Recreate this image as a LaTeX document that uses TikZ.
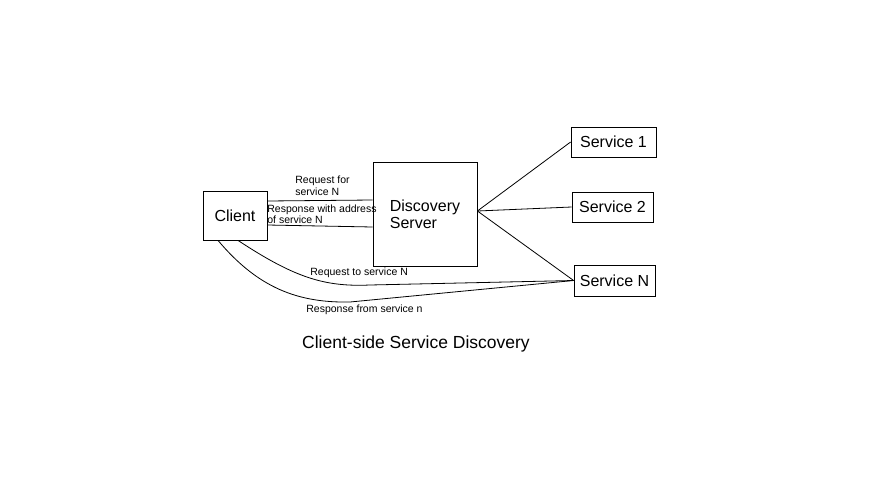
\documentclass[tikz,border=0pt]{standalone}
\usepackage{fontspec}
\setmainfont{Liberation Sans}
\usetikzlibrary{positioning}

\begin{document}
\begin{tikzpicture}[x=1pt, y=-1pt, line width=0.8pt,
    box/.style={draw, inner sep=0pt, font=\fontsize{16}{17}\selectfont},
    lbl/.style={anchor=west, align=left, inner sep=0pt, font=\fontsize{10.5}{11.5}\selectfont}]
          \useasboundingbox (0, 0) rectangle (873, 498);%
          % boxes
          \node [box, minimum width=64, minimum height=49] (client) at (235, 215.5) {Client};%
          \node [box, minimum width=104, minimum height=104, align=left] (server) at (425, 214) {%
            Discovery\\Server};%
          \node [box, minimum width=85, minimum height=30] (sone) at (613.5, 142) {Service 1};%
          \node [box, minimum width=81, minimum height=30] (stwo) at (612.5, 207) {Service 2};%
          \node [box, minimum width=81, minimum height=31] (sn) at (614.5, 280.5) {Service N};%
          % client <-> discovery server
          \draw ([yshift=14.5pt]client.east) -- ([yshift=14pt]server.west);%
          \draw ([yshift=-9.5pt]client.east) -- ([yshift=-13pt]server.west);%
          \node [lbl] (req) at (295, 185.5) {Request for\\service N};%
          \node [lbl] (resp) at (267, 214) {Response with address\\of service N};%
          % discovery server -> services
          \coordinate (hub) at ([yshift=3pt]server.east);%
          \draw (hub) -- (sone.west);%
          \draw (hub) -- (stwo.west);%
          \draw (hub) -- (sn.west);%
          % client <-> service N
          \draw ([xshift=3pt]client.south) .. controls (295, 278) and (325, 287) .. (370, 285) -- (sn.west);%
          \draw ([xshift=-17pt]client.south) .. controls (258, 288) and (298, 303) .. (350, 302) -- (sn.west);%
          \node [lbl] (reqn) at (310, 273) {Request to service N};%
          \node [lbl] (respn) at (306, 310) {Response from service n};%
          % caption
          \node [inner sep=0pt, font=\fontsize{17.5}{19}\selectfont] (title) at (416, 344) {Client-side Service Discovery};%
        \end{tikzpicture}
\end{document}
